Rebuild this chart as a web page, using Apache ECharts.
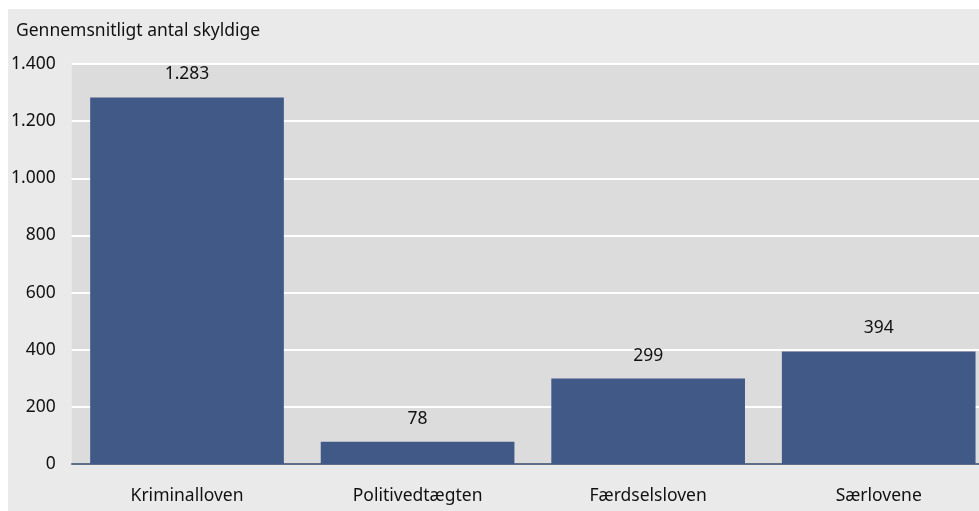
<!DOCTYPE html>
<html><head><meta charset="utf-8">
<script src="https://cdn.jsdelivr.net/npm/echarts@6/dist/echarts.min.js"></script>
<style>
html,body{margin:0;padding:0;background:#ffffff;overflow:hidden;width:979px;height:511px;}
#chart{position:absolute;left:8px;top:9px;width:986px;height:502px;background:#eaeaea;}
</style></head>
<body><div id="chart"></div>
<script>
const categories = ['Kriminalloven', 'Politivedtægten', 'Færdselsloven', 'Særlovene'];
const values = [1283, 78, 299, 394];
const yTicks = [0, 200, 400, 600, 800, 1000, 1200, 1400];
const yTitle = 'Gennemsnitligt antal skyldige';

function fmt(v){ return String(v).replace(/\B(?=(\d{3})+(?!\d))/g, '.'); }

const chart = echarts.init(document.getElementById('chart'), null, {renderer:'canvas'});
chart.setOption({
  animation:false,
  backgroundColor:'transparent',
  textStyle:{fontFamily:'Noto Sans'},
  title:{text:yTitle,left:3,top:8,textStyle:{fontFamily:'Noto Sans',fontWeight:'normal',fontSize:17.5,color:'#111'}},
  grid:{left:62,right:0,top:55,bottom:47,show:true,backgroundColor:'#dcdcdc',borderWidth:0},
  xAxis:{type:'category',data:categories,
    axisLine:{lineStyle:{color:'#2e3f62',width:1.5}},
    axisTick:{show:false},
    axisLabel:{fontSize:17.5,color:'#111',margin:23,fontFamily:'Noto Sans'}},
  yAxis:{type:'value',min:yTicks[0],max:yTicks[yTicks.length-1],interval:200,
    axisLine:{show:false},axisTick:{show:false},
    splitLine:{lineStyle:{color:'#ffffff',width:2}},
    axisLabel:{fontSize:17.5,color:'#111',margin:16,fontFamily:'Noto Sans',formatter:fmt}},
  series:[{type:'bar',data:values,barCategoryGap:'16%',
    itemStyle:{color:'#405987'},
    label:{show:true,position:'top',distance:14,fontSize:17.5,color:'#111',fontFamily:'Noto Sans',formatter:p=>fmt(p.value)}}]
});
</script></body></html>
